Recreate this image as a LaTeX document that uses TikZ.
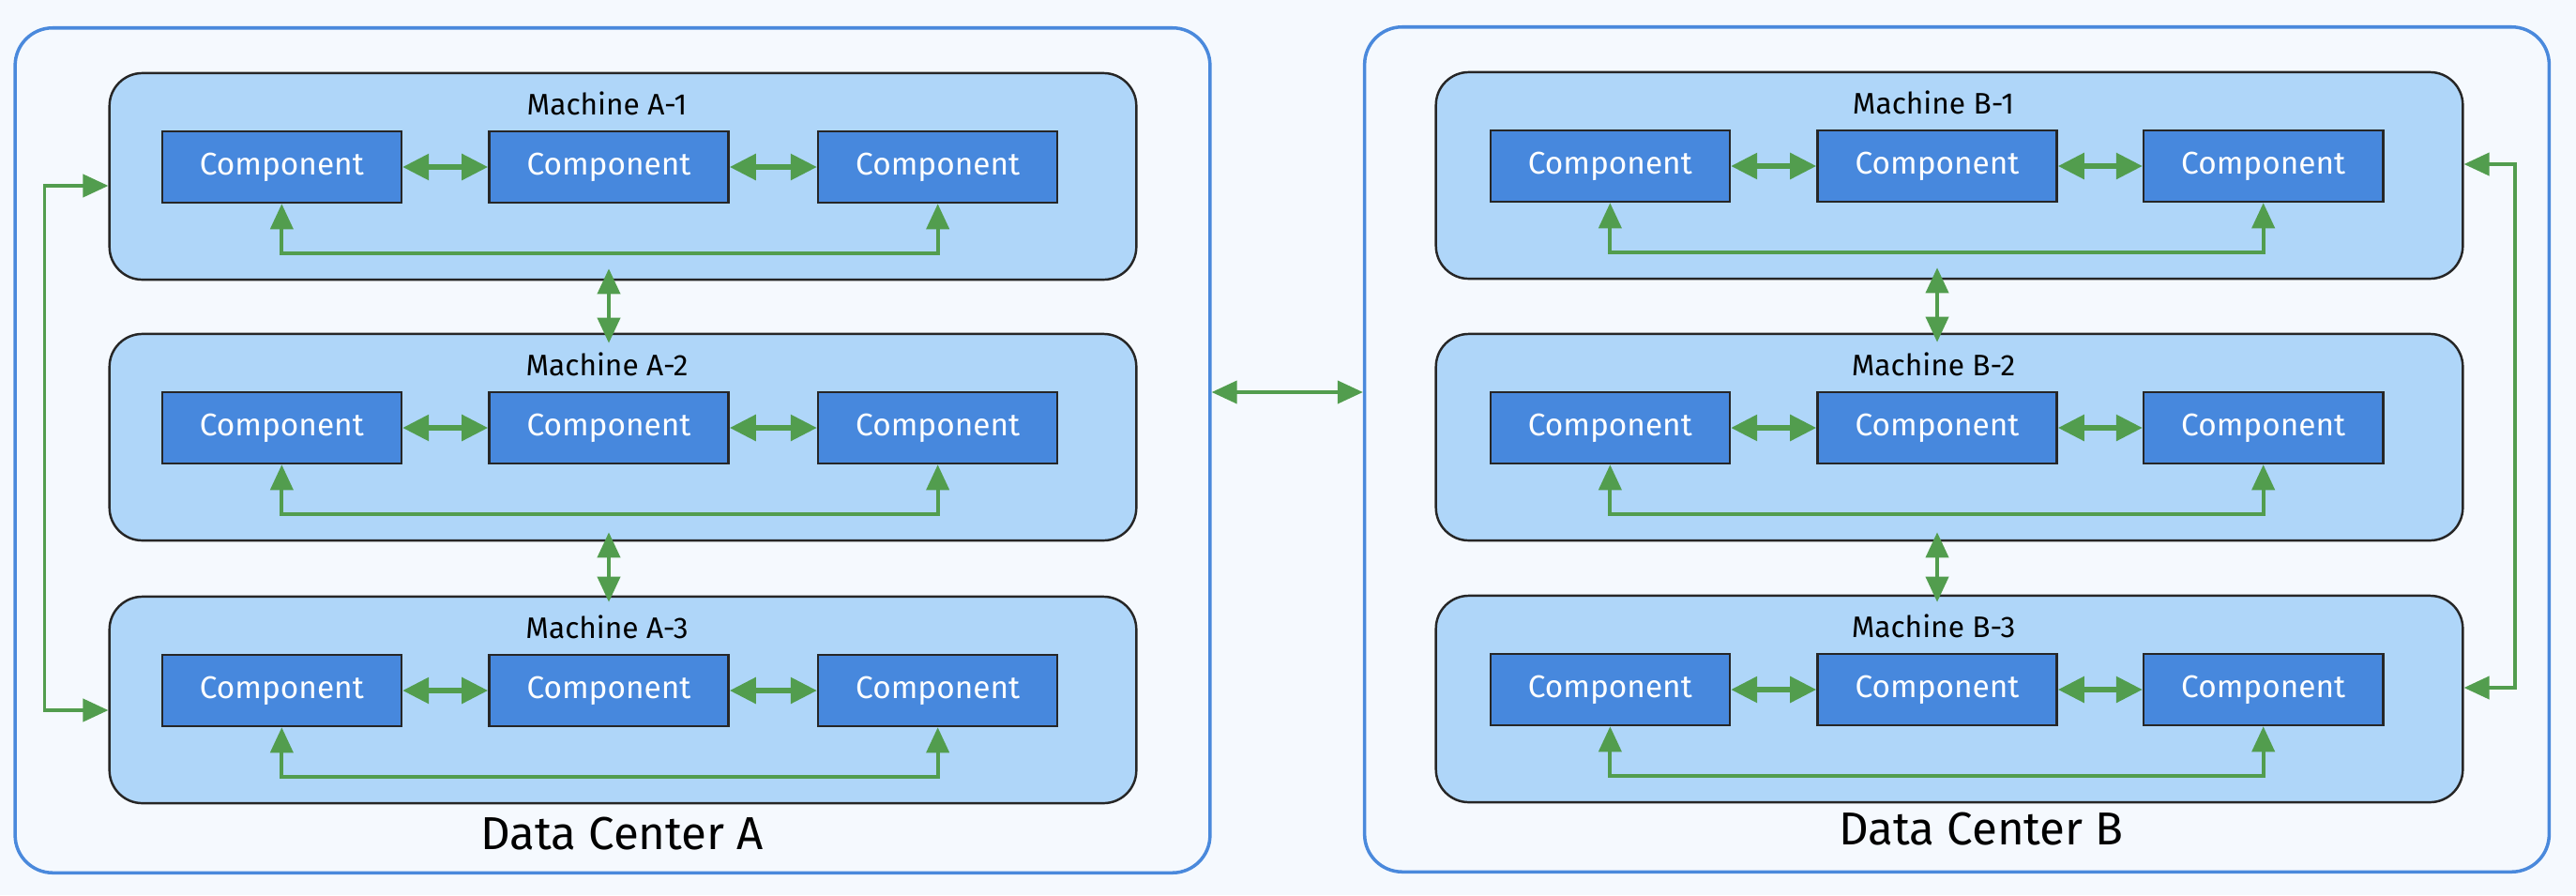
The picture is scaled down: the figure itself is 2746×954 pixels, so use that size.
\documentclass[tikz,border=0pt]{standalone}
\usepackage{fontspec}
\setmainfont{Fira Sans}
\usepackage{xcolor}
\usetikzlibrary{positioning,calc,arrows.meta}

\definecolor{pagebg}{RGB}{245,249,254}
\definecolor{dcblue}{RGB}{74,137,220}
\definecolor{machinebg}{RGB}{175,214,249}
\definecolor{compblue}{RGB}{71,136,221}
\definecolor{linkgreen}{RGB}{82,157,78}

\tikzset{
  datacenter/.style={rectangle, rounded corners=0.4cm, draw=dcblue, line width=1pt, fill=pagebg, minimum width=12.7cm, minimum height=9.0cm},
  machine/.style={rectangle, rounded corners=0.35cm, draw=black!85, line width=0.7pt, fill=machinebg, minimum width=10.94cm, minimum height=2.2cm},
  comp/.style={rectangle, draw=black!85, line width=0.7pt, fill=compblue, text=white, minimum width=2.55cm, minimum height=0.76cm, font=\fontsize{9.5}{11}\selectfont},
  title/.style={font=\fontsize{9}{11}\selectfont},
  dclabel/.style={font=\fontsize{14}{16}\selectfont},
  link/.style={draw=linkgreen, line width=1.1pt, <->, >={Triangle[length=0.27cm,width=0.24cm]}},
  boldlink/.style={link, line width=1.6pt, >={Triangle[length=0.28cm,width=0.27cm]}},
}

\begin{document}
\begin{tikzpicture}[x=0.01cm, y=-0.01cm]
    \useasboundingbox[fill=pagebg] (0,0) rectangle (2746,954);

    % Data centers
    \node[datacenter, minimum width=12.73cm] (dcA) at (653,480) {};
    \node[datacenter, minimum width=12.62cm] (dcB) at (2086,479) {};
    \node[dclabel] (lA) at ($(dcA.south)+(10,-43)$) {Data Center A};
    \node[dclabel] (lB) at ($(dcB.south)+(26,-47)$) {Data Center B};

    % Machines A
    \foreach \m/\y in {1/188, 2/466, 3/746} {
        \node[machine] (mA\m) at (664,\y) {};
        \node[title] (tA\m) at ($(mA\m.north)+(-17,34)$) {Machine A-\m};
        \node[comp] (cA\m2) at ($(mA\m.center)+(-15,-10)$) {Component};
        \node[comp, left=0.91cm of cA\m2] (cA\m1) {Component};
        \node[comp, right=0.93cm of cA\m2] (cA\m3) {Component};
        \draw[boldlink] (cA\m1) -- (cA\m2);
        \draw[boldlink] (cA\m2) -- (cA\m3);
        \draw[link] (cA\m1.south) -- ++(0,53) -| (cA\m3.south);
    }

    % Machines B
    \foreach \m/\y in {1/187, 2/466, 3/745} {
        \node[machine] (mB\m) at (2078,\y) {};
        \node[title] (tB\m) at ($(mB\m.north)+(-17,34)$) {Machine B-\m};
        \node[comp] (cB\m2) at ($(mB\m.center)+(-13,-10)$) {Component};
        \node[comp, left=0.91cm of cB\m2] (cB\m1) {Component};
        \node[comp, right=0.90cm of cB\m2] (cB\m3) {Component};
        \draw[boldlink] (cB\m1) -- (cB\m2);
        \draw[boldlink] (cB\m2) -- (cB\m3);
        \draw[link] (cB\m1.south) -- ++(0,53) -| (cB\m3.south);
    }

    % Links between machines
    \draw[link] ($(mA1.south -| cA12)+(0,-13)$) -- ($(mA2.north -| cA12)+(0,11)$);
    \draw[link] ($(mA2.south -| cA22)+(0,-10)$) -- ($(mA3.north -| cA22)+(0,7)$);
    \draw[link] ($(mB1.south -| cB12)+(0,-13)$) -- ($(mB2.north -| cB12)+(0,10)$);
    \draw[link] ($(mB2.south -| cB22)+(0,-10)$) -- ($(mB3.north -| cB22)+(0,8)$);
    \draw[link] ($(mA1.west)+(0,10)$) -- ++(-68,0) |- ($(mA3.west)+(0,11)$);
    \draw[link] ($(mB1.east)+(0,-12)$) -- ++(54,0) |- ($(mB3.east)+(0,-12)$);

    % Link between data centers
    \draw[link] ($(dcA.east)+(0,-62)$) -- ($(dcB.west)+(0,-61)$);
\end{tikzpicture}
\end{document}
